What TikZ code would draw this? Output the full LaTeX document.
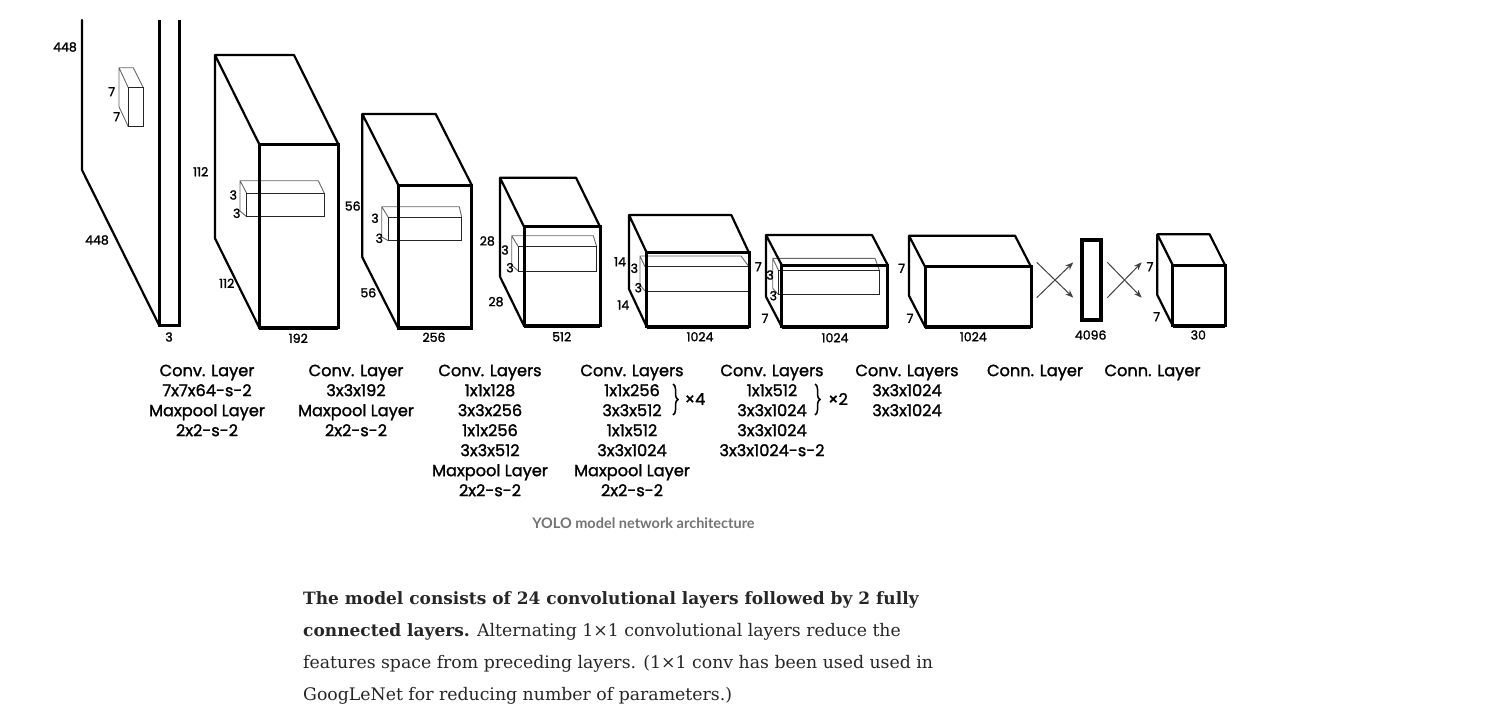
\documentclass[tikz,border=0pt]{standalone}
\usepackage{fontspec}
\setmainfont{DejaVu Serif}
\newfontfamily\lblfont[FakeBold=1.6]{Poppins}
\newfontfamily\capfont{Lato}
\usetikzlibrary{arrows.meta,decorations.pathreplacing}
\newcommand\cuboid[6]{%
  \pgfmathsetmacro\dxx{#3-#1}\pgfmathsetmacro\dyy{#4-#2}%
  \draw[back] (#1,{#6-\dyy}) -- (#1,#2) -- ({#5-\dxx},#2) -- (#5,#4)
              (#1,#2) -- (#3,#4) (#1,{#6-\dyy}) -- (#3,#6);
  \draw[front] (#3,#4) rectangle (#5,#6);
  \draw[base] (#3,#6) -- (#5,#6);}
\newcommand\bfpara{\bfseries\fontsize{17}{24}\selectfont}
\begin{document}
\begin{tikzpicture}[x=1pt,y=-1pt,
  back/.style={line width=2.2pt, line join=round, line cap=round},
  front/.style={line width=3pt, line join=miter},
  base/.style={line width=4pt},
  inner/.style={line width=0.9pt, draw=black!60},
  innerfront/.style={line width=1pt, draw=black!85},
  dim/.style={font=\lblfont\fontsize{12.5}{13}\selectfont, inner sep=0pt},
  lbl/.style={font=\lblfont\fontsize{16.2}{20}\selectfont, inner sep=0pt, align=center, anchor=north},
  xarrow/.style={line width=1pt, draw=black!75, -{Stealth[length=8pt,width=6pt]}},
  brc/.style={decorate, decoration={brace, amplitude=5pt}, line width=1.5pt},
  para/.style={font=\fontsize{17.3}{24}\selectfont, anchor=base west, inner sep=0pt, text=black!85},
]
\useasboundingbox (0,0) rectangle (1510,712);

% ---- layer 1 (input slab)
\draw[back] (82,20) -- (82,170) -- (159,325);
\draw[front] (159,20) -- (159,325) -- (179,325) -- (179,20);
\draw[inner] (119,106.7) -- (119,67.7) -- (133.3,67.7) -- (143.3,87.7)
             (119,67.7) -- (128.3,87.7) (119,106.7) -- (128.3,126.7);
\draw[innerfront] (128.3,87.7) rectangle (143.3,126.7);
\node[dim] (d448a) at (65,47) {448};
\node[dim] (d7a) at (111.7,91.7) {7};
\node[dim] (d7b) at (116.7,116.7) {7};
\node[dim] (d448b) at (97,240) {448};
\node[dim] (d3a) at (169,337) {3};

% ---- layer 2
\draw[inner] (240,211) -- (240,180.7) -- (318.3,180.7) -- (324.3,193.3)
             (240,180.7) -- (246.7,193.3) (240,211) -- (246.7,216.7);
\draw[innerfront] (246.7,193.3) rectangle (324.3,216.7);
\cuboid{215}{55}{259.3}{144.3}{338.3}{327.7}
\node[dim] (d112a) at (200.7,171.7) {112};
\node[dim] (d3b) at (233.3,195) {3};
\node[dim] (d3c) at (236.7,213.3) {3};
\node[dim] (d112b) at (226.7,283.3) {112};
\node[dim] (d192) at (298.3,338.3) {192};

% ---- layer 3
\draw[inner] (381.7,237) -- (381.7,206.7) -- (459.3,206.7) -- (461.7,217.3)
             (381.7,206.7) -- (388.3,217.3) (381.7,237) -- (388.3,240.7);
\draw[innerfront] (388.3,217.3) rectangle (461.7,240.7);
\cuboid{362.3}{114}{398.3}{185}{471.7}{328.3}
\node[dim] (d56a) at (352.7,206) {56};
\node[dim] (d3d) at (375,218.3) {3};
\node[dim] (d3e) at (379.3,238.3) {3};
\node[dim] (d56b) at (368.3,292.7) {56};
\node[dim] (d256) at (434,337.3) {256};

% ---- layer 4
\draw[inner] (511.7,265) -- (511.7,235.7) -- (593.3,235.7) -- (596.7,246.7)
             (511.7,235.7) -- (518.3,246.7) (511.7,265) -- (518.3,271);
\draw[innerfront] (518.3,246.7) rectangle (596.7,271);
\cuboid{500}{177.7}{524}{226.7}{600}{325.7}
\node[dim] (d28a) at (487.3,241) {28};
\node[dim] (d3f) at (505,250) {3};
\node[dim] (d3g) at (510,267.7) {3};
\node[dim] (d28b) at (496,301.7) {28};
\node[dim] (d512) at (561.7,336.7) {512};

% ---- layer 5
\draw[inner] (640,285) -- (640,256) -- (741,256) -- (749,266.7)
             (640,256) -- (645,266.7) (640,285) -- (645,291);
\draw[innerfront] (645,266.7) rectangle (749,291);
\cuboid{629}{215}{646.7}{252.7}{749}{326.7}
\node[dim] (d14a) at (620,261.7) {14};
\node[dim] (d3h) at (634.3,268.3) {3};
\node[dim] (d3i) at (638.3,287.7) {3};
\node[dim] (d14b) at (623.3,305) {14};
\node[dim] (d1024a) at (700,336.7) {1024};

% ---- layer 6
\draw[inner] (772.7,288.3) -- (772.7,258.3) -- (875,258.3) -- (879.3,270)
             (772.7,258.3) -- (778.3,270) (772.7,288.3) -- (778.3,294.3);
\draw[innerfront] (778.3,270) rectangle (879.3,294.3);
\cuboid{766}{235}{781.7}{265}{887.7}{326.7}
\node[dim] (d7c) at (758.3,266.7) {7};
\node[dim] (d3j) at (770,275) {3};
\node[dim] (d3k) at (773.3,295.7) {3};
\node[dim] (d7d) at (765,318.3) {7};
\node[dim] (d1024b) at (835,337.7) {1024};

% ---- layer 7
\cuboid{909}{235.7}{925}{266.7}{1031}{326.7}
\node[dim] (d7e) at (901.7,268.3) {7};
\node[dim] (d7f) at (910,318.3) {7};
\node[dim] (d1024c) at (973.3,336.7) {1024};

% ---- fully connected
\coordinate (a1s) at (1036.7,262.3); \coordinate (a1e) at (1073.3,297.7);
\coordinate (a2s) at (1036.7,297.7); \coordinate (a2e) at (1073.3,262.3);
\draw[xarrow] (a1s) -- (a1e);
\draw[xarrow] (a2s) -- (a2e);
\draw[line width=4pt] (1081.7,240) rectangle (1100.7,320);
\node[dim] (d4096) at (1090.7,335) {4096};
\coordinate (b1s) at (1107.3,262.3); \coordinate (b1e) at (1141.7,297.7);
\coordinate (b2s) at (1107.3,297.7); \coordinate (b2e) at (1141.7,262.3);
\draw[xarrow] (b1s) -- (b1e);
\draw[xarrow] (b2s) -- (b2e);
\cuboid{1157.3}{234.3}{1172.7}{265}{1225}{325.7}
\node[dim] (d7g) at (1150,266.7) {7};
\node[dim] (d7h) at (1156.7,316.7) {7};
\node[dim] (d30) at (1198.3,335) {30};

% ---- layer descriptions
\node[lbl] (c1) at (207,364.5) {Conv. Layer\\7x7x64-s-2\\Maxpool Layer\\2x2-s-2};
\node[lbl] (c2) at (356,364.5) {Conv. Layer\\3x3x192\\Maxpool Layer\\2x2-s-2};
\node[lbl] (c3) at (490,364.5) {Conv. Layers\\1x1x128\\3x3x256\\1x1x256\\3x3x512\\Maxpool Layer\\2x2-s-2};
\node[lbl] (c4) at (632,364.5) {Conv. Layers\\1x1x256\\3x3x512\\1x1x512\\3x3x1024\\Maxpool Layer\\2x2-s-2};
\node[lbl] (c5) at (772,364.5) {Conv. Layers\\1x1x512\\3x3x1024\\3x3x1024\\3x3x1024-s-2};
\node[lbl] (c6) at (907,364.5) {Conv. Layers\\3x3x1024\\3x3x1024};
\node[lbl] (c7) at (1035,364.5) {Conn. Layer};
\node[lbl] (c8) at (1152.5,364.5) {Conn. Layer};
\coordinate (br4t) at (673,384); \coordinate (br4b) at (673,415);
\draw[brc] (br4t) -- (br4b);
\node[lbl, anchor=center] (x4) at (695,399) {×4};
\coordinate (br2t) at (815,384); \coordinate (br2b) at (815,415);
\draw[brc] (br2t) -- (br2b);
\node[lbl, anchor=center] (x2) at (838,399) {×2};

% ---- caption
\node[font=\capfont\bfseries\fontsize{14.5}{16}\selectfont, text=black!55, inner sep=0pt] (cap) at (643.5,523) {YOLO model network architecture};

% ---- paragraph
\node[para] (p1) at (303,604) {\bfpara The model consists of 24 convolutional layers followed by 2 fully};
\node[para] (p2) at (303,636) {{\bfpara connected layers.} Alternating 1×1 convolutional layers reduce the};
\node[para] (p3) at (303,668) {features space from preceding layers. (1×1 conv has been used used in};
\node[para] (p4) at (303,700) {GoogLeNet for reducing number of parameters.)};
\end{tikzpicture}
\end{document}
